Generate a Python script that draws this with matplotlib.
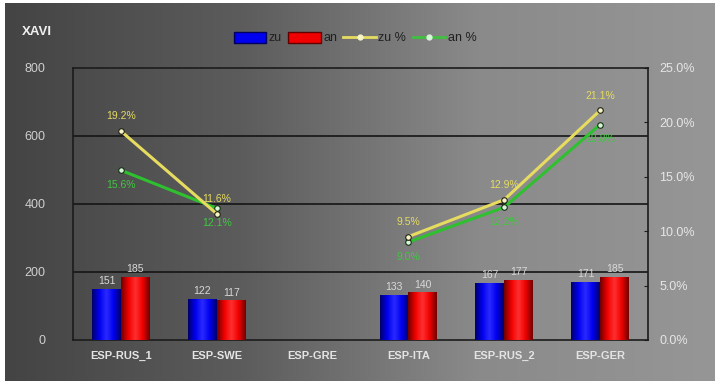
import numpy as np
import matplotlib
matplotlib.use("Agg")
import matplotlib.pyplot as plt
from matplotlib.lines import Line2D
from matplotlib.patches import Patch

plt.rcParams['font.family'] = ['Liberation Sans', 'DejaVu Sans']

categories = ["ESP-RUS_1", "ESP-SWE", "ESP-GRE", "ESP-ITA", "ESP-RUS_2", "ESP-GER"]
zu = [151, 122, np.nan, 133, 167, 171]
an = [185, 117, np.nan, 140, 177, 185]
zu_pct = [19.2, 11.6, np.nan, 9.5, 12.9, 21.1]
an_pct = [15.6, 12.1, np.nan, 9.0, 12.2, 19.8]
left_ticks = [0, 200, 400, 600, 800]
right_ticks = [0, 5, 10, 15, 20, 25]

W, H = 715, 385
fig = plt.figure(figsize=(W / 100, H / 100), dpi=100)
fig.patch.set_facecolor("white")

# gradient backdrop inside a thin white border
bg = fig.add_axes([5 / W, 4 / H, 1 - 5 / W, 1 - 7 / H])
bg.set_axis_off()
grad = np.linspace(0, 1, 256)[None, :]
cmap_bg = matplotlib.colors.LinearSegmentedColormap.from_list(
    "bg", ["#444444", "#5c5c5c", "#8a8a8a", "#969696"])
bg.imshow(grad, aspect="auto", cmap=cmap_bg, extent=[0, 1, 0, 1])
bg.set_xlim(0, 1)
bg.set_ylim(0, 1)

ax = fig.add_axes([73 / W, 1 - 340 / H, (648 - 73) / W, (340 - 68) / H])
ax.patch.set_alpha(0)
x = np.arange(len(categories))
bw = 0.3

def shaded_bars(xs, vals, dark, mid, light):
    bars = ax.bar(xs, vals, width=bw, color=mid, edgecolor="none", zorder=3)
    cm = matplotlib.colors.LinearSegmentedColormap.from_list(
        "c", [dark, mid, light, mid, dark])
    for b in bars:
        if not np.isfinite(b.get_height()) or b.get_height() == 0:
            continue
        x0, w, h = b.get_x(), b.get_width(), b.get_height()
        im = ax.imshow(np.linspace(0, 1, 64)[None, :], aspect="auto", cmap=cm,
                       extent=[x0, x0 + w, 0, h], zorder=3.1)
        im.set_clip_path(b)
    return bars

b1 = shaded_bars(x - bw / 2, zu, "#00006a", "#0000f0", "#2a2aff")
b2 = shaded_bars(x + bw / 2, an, "#700000", "#f00000", "#ff3030")

for bars, vals in ((b1, zu), (b2, an)):
    for b, v in zip(bars, vals):
        if np.isfinite(v):
            ax.text(b.get_x() + b.get_width() / 2, v + 8, f"{v:.0f}",
                    ha="center", va="bottom", fontsize=7.5, color="#d8d8d8", zorder=5)

ax.set_xlim(-0.5, len(categories) - 0.5)
ax.set_ylim(0, 800)
ax.set_yticks(left_ticks)
ax.set_yticklabels([str(t) for t in left_ticks])
ax.set_xticks(x)
ax.set_xticklabels(categories)
ax.tick_params(axis="x", length=0, pad=8, labelsize=8, labelcolor="#e4e4e4")
ax.tick_params(axis="y", length=0, pad=20, labelsize=9, labelcolor="#cfcfcf")
for lbl in ax.get_xticklabels():
    lbl.set_fontweight("bold")
for v in (200, 400, 600):
    ax.axhline(v, color="#151515", lw=1.2, zorder=1)
for s in ax.spines.values():
    s.set_color("#1c1c1c")
    s.set_linewidth(1.2)

ax2 = ax.twinx()
ax2.set_ylim(0, 25)
ax2.set_yticks(right_ticks)
ax2.set_yticklabels([f"{t:.1f}%" for t in right_ticks])
ax2.tick_params(axis="y", length=3, direction="in", color="#1c1c1c",
                pad=8, labelsize=9, labelcolor="#e6e6e6")
for s in ax2.spines.values():
    s.set_visible(False)

ax2.plot(x, zu_pct, color="#e6dc60", lw=2.2, marker="o", ms=4,
         mfc="#f4f4c8", mec="#202010", mew=0.8, zorder=6)
ax2.plot(x, an_pct, color="#2fc02f", lw=2.2, marker="o", ms=4,
         mfc="#d8f4d8", mec="#103010", mew=0.8, zorder=5)

for xi, v in zip(x, zu_pct):
    if np.isfinite(v):
        ax2.text(xi, v + 0.9, f"{v:.1f}%", ha="center", va="bottom",
                 fontsize=7.5, color="#e6dc60", zorder=7)
for xi, v in zip(x, an_pct):
    if np.isfinite(v):
        ax2.text(xi, v - 0.9, f"{v:.1f}%", ha="center", va="top",
                 fontsize=7.5, color="#40c840", zorder=7)

fig.text(22 / W, 1 - 32 / H, "XAVI", fontsize=9.5, fontweight="bold",
         color="#f0f0f0", ha="left", va="center")

handles = [
    Patch(facecolor="#0000f0", edgecolor="#000060", label="zu"),
    Patch(facecolor="#f00000", edgecolor="#600000", label="an"),
    Line2D([], [], color="#e6dc60", lw=2, marker="o", ms=3.5, mfc="#f4f4c8",
           mec="#f4f4c8", label="zu %"),
    Line2D([], [], color="#40c040", lw=2, marker="o", ms=3.5, mfc="#d8f4d8",
           mec="#d8f4d8", label="an %"),
]
fig.legend(handles=handles, loc="center", bbox_to_anchor=(355 / W, 1 - 38 / H),
           ncol=4, frameon=False, fontsize=9, handlelength=2.6, handleheight=1.0,
           handletextpad=0.2, columnspacing=0.5, labelcolor="#202020")

fig.savefig("out.png", dpi=100, facecolor=fig.get_facecolor())
